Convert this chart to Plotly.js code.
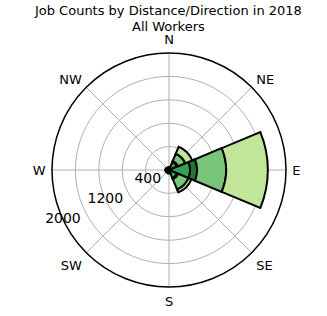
<!DOCTYPE html>
<html>
<head>
<meta charset="utf-8">
<script src="https://cdn.plot.ly/plotly-3.0.1.min.js"></script>
<style>html,body{margin:0;padding:0;background:#fff;}#chart{width:327px;height:316px;}</style>
</head>
<body>
<div id="chart"></div>
<script>
const directions = ['N', 'NE', 'E', 'SE', 'S', 'SW', 'W', 'NW'];
const directionAngles = [0, 45, 90, 135, 180, 225, 270, 315];
const seriesNames = ['Less than 10 miles', '10 to 24 miles', '25 to 50 miles', 'Greater than 50 miles'];
const lessThan10 = [30, 150, 360, 150, 30, 25, 35, 25];
const from10to24 = [5, 20, 120, 20, 5, 5, 5, 5];
const from25to50 = [10, 130, 495, 190, 15, 10, 15, 10];
const over50 = [5, 130, 715, 55, 10, 5, 10, 5];
const seriesColors = ['#35a055', '#23743c', '#78c679', '#c2e699'];
const radialGrid = [400, 800, 1200, 1600, 2000];
const radialLabelValues = [400, 1200, 2000];
const radialLabelText = ['400', '1200', '2000'];

const seriesValues = [lessThan10, from10to24, from25to50, over50];
const traces = seriesValues.map((vals, i) => ({
  type: 'barpolar',
  name: seriesNames[i],
  theta: directionAngles,
  width: 45,
  r: vals,
  marker: {color: seriesColors[i], line: {color: '#000', width: 2}},
  showlegend: false
}));

traces.push({
  type: 'scatterpolar',
  mode: 'text',
  r: radialLabelValues,
  theta: radialLabelValues.map(() => 245),
  text: radialLabelText,
  textposition: 'middle center',
  textfont: {family: 'DejaVu Sans', size: 14, color: '#000'},
  showlegend: false,
  hoverinfo: 'skip',
  cliponaxis: false
});

const layout = {
  width: 327, height: 316,
  margin: {l: 0, r: 0, t: 0, b: 0},
  paper_bgcolor: '#fff',
  font: {family: 'DejaVu Sans', color: '#000'},
  title: {
    text: 'Job Counts by Distance/Direction in 2018<br>All Workers',
    font: {family: 'DejaVu Sans', size: 13, color: '#000'},
    x: 0.515, xanchor: 'center', yref: 'container', y: 0.954, yanchor: 'top'
  },
  polar: {
    domain: {x: [52/327, 286/327], y: [29/316, 263/316]},
    bgcolor: '#fff',
    bargap: 0,
    barmode: 'stack',
    angularaxis: {
      direction: 'clockwise', rotation: 90,
      type: 'linear', thetaunit: 'degrees',
      tickmode: 'array', tickvals: directionAngles, ticktext: directions,
      showline: true, linecolor: '#000', linewidth: 1.5,
      showgrid: true, gridcolor: '#b0b0b0', gridwidth: 1,
      ticks: 'outside', ticklen: 3, tickcolor: 'rgba(0,0,0,0)',
      tickfont: {family: 'DejaVu Sans', size: 13, color: '#000'}
    },
    radialaxis: {
      range: [0, 2000],
      tickmode: 'array', tickvals: radialGrid,
      showticklabels: false,
      showline: false, ticks: '',
      showgrid: true, gridcolor: '#b0b0b0', gridwidth: 1
    }
  }
};

Plotly.newPlot('chart', traces, layout, {displayModeBar: false, staticPlot: true});
</script>
</body>
</html>
